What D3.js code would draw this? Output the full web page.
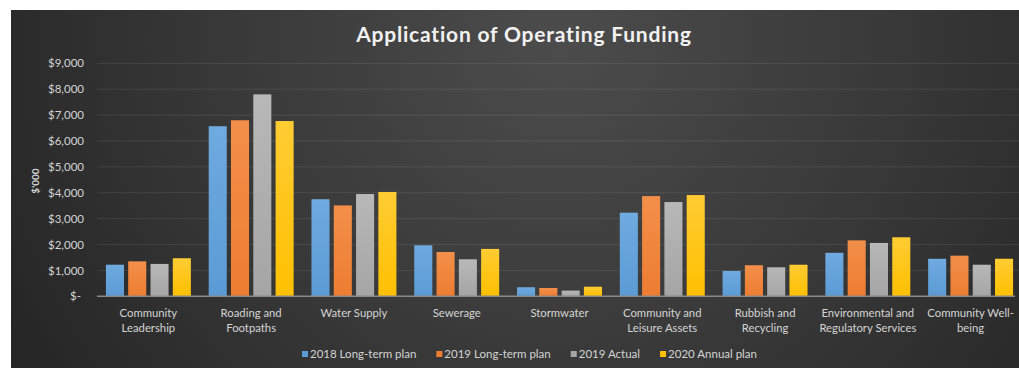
<!DOCTYPE html>
<html>
<head>
<meta charset="utf-8">
<script src="https://cdn.jsdelivr.net/npm/d3@7"></script>
<style>
  html, body { margin: 0; padding: 0; background: #ffffff; }
  svg { display: block; }
  text { font-family: Lato, "Open Sans", "Liberation Sans", sans-serif; }
</style>
</head>
<body>
<svg id="chart" width="1019" height="368"></svg>
<script>
// Operating funding by activity ($'000)
const categories = [
  "Community Leadership", "Roading and Footpaths", "Water Supply", "Sewerage",
  "Stormwater", "Community and Leisure Assets", "Rubbish and Recycling",
  "Environmental and Regulatory Services", "Community Well-being"
];
const categoryLines = [
  ["Community", "Leadership"], ["Roading and", "Footpaths"], ["Water Supply"],
  ["Sewerage"], ["Stormwater"], ["Community and", "Leisure Assets"],
  ["Rubbish and", "Recycling"], ["Environmental and", "Regulatory Services"],
  ["Community Well-", "being"]
];
const seriesNames = ["2018 Long-term plan", "2019 Long-term plan", "2019 Actual", "2020 Annual plan"];
const longTerm2018 = [1220, 6570, 3750, 1970, 350, 3230, 980, 1680, 1450];
const longTerm2019 = [1350, 6800, 3510, 1710, 320, 3870, 1200, 2160, 1570];
const actual2019   = [1250, 7800, 3950, 1430, 220, 3640, 1120, 2060, 1220];
const annual2020   = [1470, 6770, 4030, 1830, 370, 3910, 1220, 2280, 1450];
const yTicks = [0, 1000, 2000, 3000, 4000, 5000, 6000, 7000, 8000, 9000];

const seriesValues = [longTerm2018, longTerm2019, actual2019, annual2020];
const colors = ["#5b9bd5", "#ed7d31", "#a5a5a5", "#ffc000"];
const colorsLight = ["#6faae0", "#f38f4a", "#b8b8b8", "#ffcc33"];

const svg = d3.select("#chart");
const defs = svg.append("defs");

// chart area background
const bg = defs.append("radialGradient").attr("id", "bgGrad")
  .attr("gradientUnits", "userSpaceOnUse")
  .attr("cx", 560).attr("cy", 40).attr("r", 620);
bg.append("stop").attr("offset", "0").attr("stop-color", "#4c4c4c");
bg.append("stop").attr("offset", "0.55").attr("stop-color", "#383838");
bg.append("stop").attr("offset", "1").attr("stop-color", "#262626");

colors.forEach((c, i) => {
  const g = defs.append("linearGradient").attr("id", "barGrad" + i)
    .attr("x1", 0).attr("y1", 0).attr("x2", 0).attr("y2", 1);
  g.append("stop").attr("offset", "0").attr("stop-color", colorsLight[i]);
  g.append("stop").attr("offset", "1").attr("stop-color", c);
});

svg.append("rect").attr("x", 11).attr("y", 10).attr("width", 1008).attr("height", 358)
  .attr("fill", "url(#bgGrad)");

const plot = { left: 97, right: 1022, top: 63.3, bottom: 296.3 };

const x0 = d3.scaleBand().domain(categories).range([plot.left, plot.right]).padding(0);
const x1 = d3.scaleBand().domain(seriesNames).range([0, x0.bandwidth()])
  .paddingInner(0.19).paddingOuter(0.4);
const y = d3.scaleLinear().domain([0, 9000]).range([plot.bottom, plot.top]);

// gridlines
svg.append("g").selectAll("line").data(yTicks.filter(d => d > 0)).join("line")
  .attr("x1", plot.left).attr("x2", 1019)
  .attr("y1", d => y(d)).attr("y2", d => y(d))
  .attr("stroke", "rgba(255,255,255,0.09)").attr("stroke-width", 1);

// y axis labels
const fmt = d3.format("$,");
const yAxis = d3.axisLeft(y).tickValues(yTicks).tickSize(0).tickPadding(0)
  .tickFormat(d => d === 0 ? "$-" : fmt(d));
const yg = svg.append("g").attr("transform", `translate(84,0)`).call(yAxis);
yg.select(".domain").remove();
yg.selectAll("text").attr("fill", "#d4d4d4").attr("font-size", 11.5)
  .attr("dx", d => d === 0 ? -3 : 0);

// bars
const groups = svg.append("g").selectAll("g").data(categories).join("g")
  .attr("transform", d => `translate(${x0(d)},0)`);
groups.selectAll("rect")
  .data((c, ci) => seriesNames.map((s, si) => ({ s, si, v: seriesValues[si][ci] })))
  .join("rect")
  .attr("x", d => x1(d.s))
  .attr("width", x1.bandwidth())
  .attr("y", d => y(d.v))
  .attr("height", d => y(0) - y(d.v))
  .attr("fill", d => `url(#barGrad${d.si})`);

// baseline
svg.append("line").attr("x1", plot.left).attr("x2", 1015)
  .attr("y1", y(0)).attr("y2", y(0))
  .attr("stroke", "#8a8a8a").attr("stroke-width", 1.5);

// category labels
const catLabels = svg.append("g").selectAll("text").data(categories).join("text")
  .attr("x", d => x0(d) + x0.bandwidth() / 2)
  .attr("y", 317)
  .attr("text-anchor", "middle")
  .attr("fill", "#d4d4d4")
  .attr("font-size", 11.3);
catLabels.each(function (d, i) {
  d3.select(this).selectAll("tspan").data(categoryLines[i]).join("tspan")
    .attr("x", x0(d) + x0.bandwidth() / 2)
    .attr("dy", (t, j) => j === 0 ? 0 : 14.5)
    .text(t => t);
});

// title
svg.append("text").attr("x", 524).attr("y", 42).attr("text-anchor", "middle")
  .attr("fill", "#f2f2f2").attr("font-size", 21).attr("font-weight", "bold")
  .attr("letter-spacing", 0.8)
  .text("Application of Operating Funding");

// y axis title
svg.append("text").attr("transform", "translate(39,181) rotate(-90)")
  .attr("text-anchor", "middle").attr("fill", "#d4d4d4")
  .attr("font-size", 10).attr("font-weight", "bold")
  .text("$'000");

// legend
const legend = svg.append("g");
let lx = 302;
seriesNames.forEach((name, i) => {
  legend.append("rect").attr("x", lx).attr("y", 351).attr("width", 6).attr("height", 6)
    .attr("fill", colors[i]);
  const t = legend.append("text").attr("x", lx + 8).attr("y", 358)
    .attr("fill", "#d4d4d4").attr("font-size", 11.5).text(name);
  lx += 8 + t.node().getComputedTextLength() + 20;
});
</script>
</body>
</html>
